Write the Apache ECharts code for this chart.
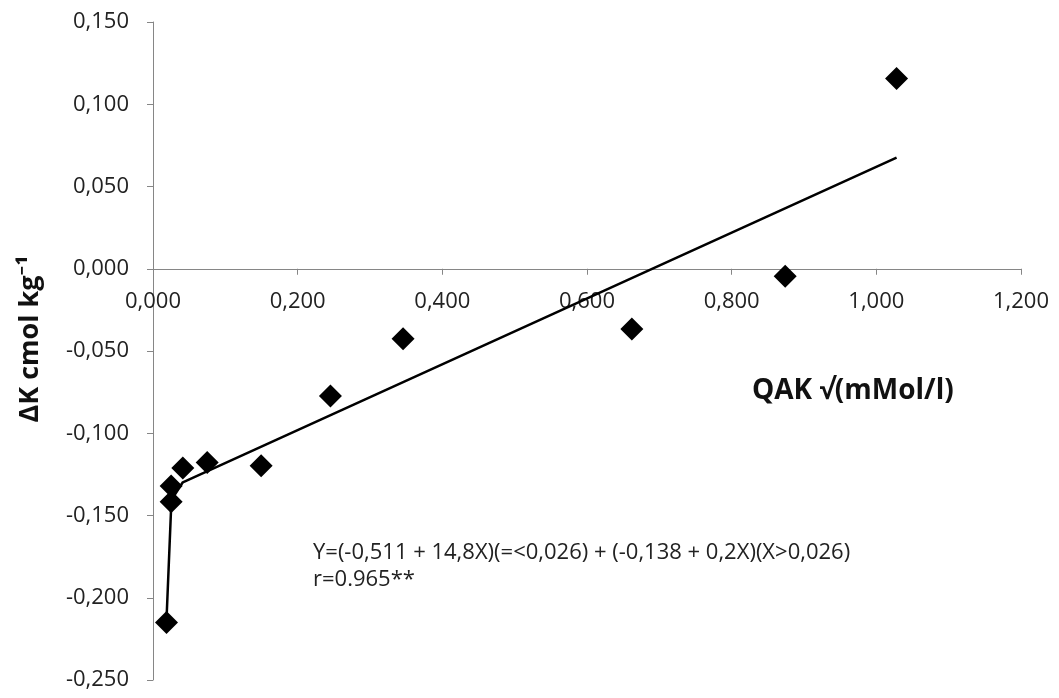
<!DOCTYPE html>
<html>
<head>
<meta charset="utf-8">
<script src="https://cdn.jsdelivr.net/npm/echarts@6/dist/echarts.min.js"></script>
<style>html,body{margin:0;padding:0;background:#fff}#c{width:1059px;height:698px}</style>
</head>
<body>
<div id="c"></div>
<script>
// Observed data points (QAK, ΔK)
const pointsX = [0.0187, 0.0251, 0.0251, 0.0412, 0.0749, 0.1495, 0.2453, 0.3457, 0.662, 0.874, 1.028];
const pointsY = [-0.215, -0.1416, -0.132, -0.1212, -0.1178, -0.1198, -0.0774, -0.0426, -0.0366, -0.0046, 0.1156];
// Fitted piecewise trend line vertices
const fitX = [0.0187, 0.0255, 0.0412, 1.028];
const fitY = [-0.213, -0.1405, -0.1298, 0.0676];
// Axis settings
const xTicks = [0, 0.2, 0.4, 0.6, 0.8, 1.0, 1.2];
const yTicks = [-0.25, -0.2, -0.15, -0.1, -0.05, 0, 0.05, 0.1, 0.15];
const xTitle = 'QAK √(mMol/l)';
const yTitle = 'ΔK cmol kg⁻¹';
const eqLine1 = 'Y=(-0,511 + 14,8X)(=<0,026) + (-0,138 + 0,2X)(X>0,026)';
const eqLine2 = 'r=0.965**';

const fmt = v => (v < 0 ? '-' : '') + Math.abs(v).toFixed(3).replace('.', ',');
const FONT = '"Open Sans", "Noto Sans", sans-serif';
const W = 1059, H = 698;
const gridTop = 22, gridBottom = 18;
const yMin = yTicks[0], yMax = yTicks[yTicks.length - 1];
const plotH = H - gridTop - gridBottom;
// shift the x axis (line, ticks, labels) up so it crosses at y = 0
const xAxisOffset = -plotH * (0 - yMin) / (yMax - yMin);

const chart = echarts.init(document.getElementById('c'));
chart.setOption({
  animation: false,
  backgroundColor: '#fff',
  grid: {left: 153, right: 38, top: gridTop, bottom: gridBottom, containLabel: false},
  xAxis: {
    type: 'value', min: xTicks[0], max: xTicks[xTicks.length - 1], interval: 0.2,
    position: 'bottom', offset: xAxisOffset,
    axisLine: {onZero: false, lineStyle: {color: '#868686', width: 1}},
    axisTick: {show: true, length: 6, lineStyle: {color: '#868686'}},
    splitLine: {show: false},
    axisLabel: {formatter: fmt, color: '#222', fontSize: 22, fontFamily: FONT, margin: 22}
  },
  yAxis: {
    type: 'value', min: yMin, max: yMax, interval: 0.05,
    axisLine: {show: true, onZero: false, lineStyle: {color: '#868686', width: 1}},
    axisTick: {show: true, length: 6, lineStyle: {color: '#868686'}},
    splitLine: {show: false},
    axisLabel: {formatter: fmt, color: '#222', fontSize: 22, fontFamily: FONT, margin: 24}
  },
  series: [
    {
      type: 'line', data: fitX.map((x, i) => [x, fitY[i]]), showSymbol: false, symbol: 'none',
      lineStyle: {color: '#000', width: 2.5}, z: 2
    },
    {
      type: 'scatter', data: pointsX.map((x, i) => [x, pointsY[i]]), symbol: 'diamond', symbolSize: 23,
      itemStyle: {color: '#000', opacity: 1}, z: 3
    }
  ],
  graphic: [
    {type: 'text', x: 752, y: 391, style: {text: xTitle, font: 'bold 28px ' + FONT, fill: '#111', verticalAlign: 'middle'}},
    {type: 'text', x: 30, y: 339, rotation: Math.PI / 2, style: {text: yTitle, font: 'bold 27px ' + FONT, fill: '#111', align: 'center', verticalAlign: 'middle'}},
    {type: 'text', x: 313, y: 553, style: {text: eqLine1, font: '22px ' + FONT, fill: '#222', verticalAlign: 'middle'}},
    {type: 'text', x: 313, y: 580, style: {text: eqLine2, font: '22px ' + FONT, fill: '#222', verticalAlign: 'middle'}}
  ]
});
</script>
</body>
</html>
